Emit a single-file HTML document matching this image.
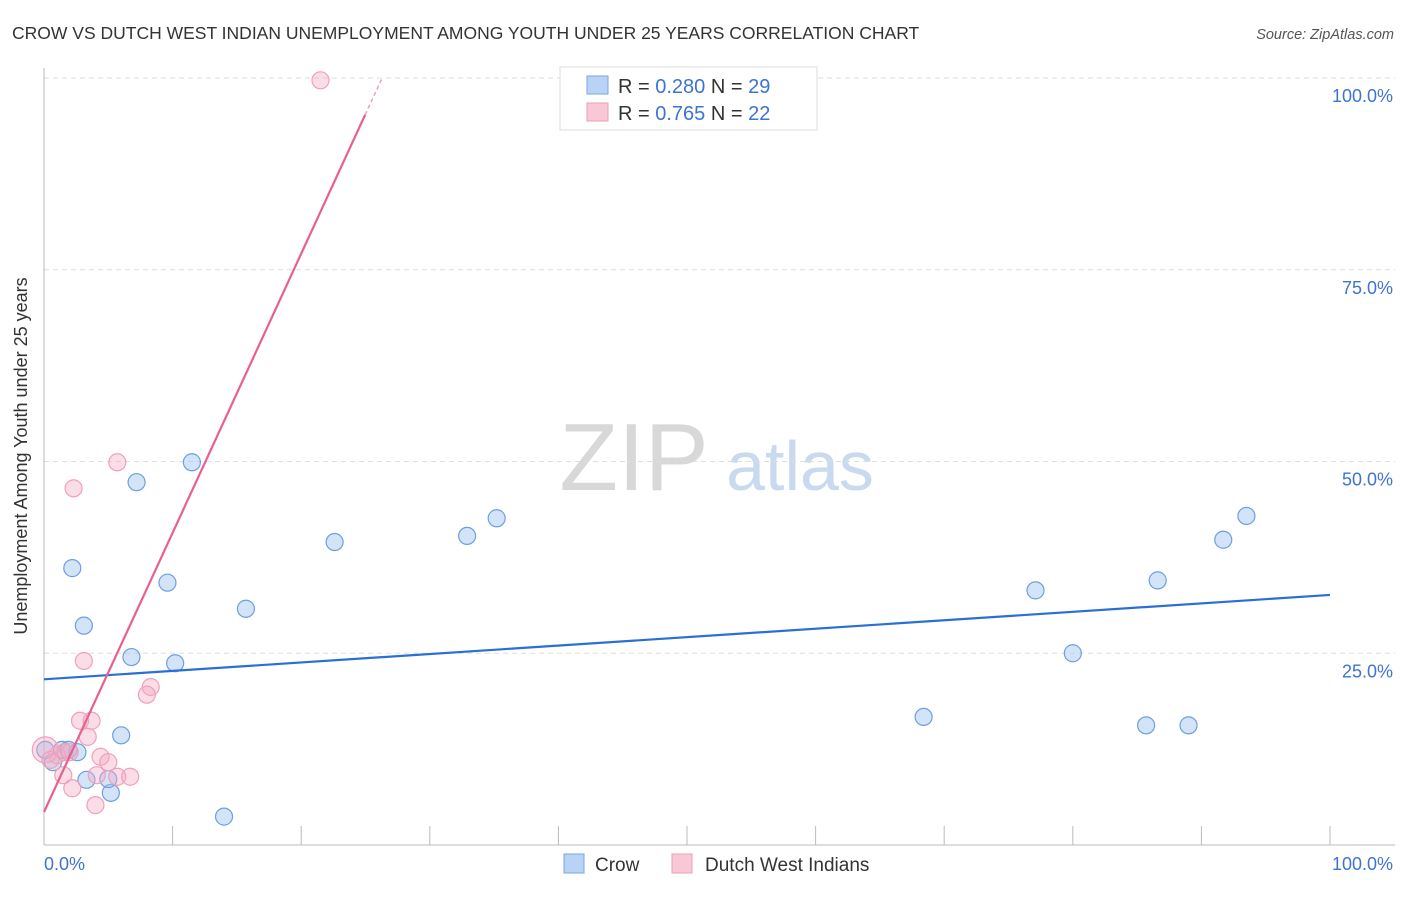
<!DOCTYPE html>
<html><head><meta charset="utf-8"><style>
body{margin:0;background:#fff;font-family:"Liberation Sans",sans-serif;}
svg text{font-family:"Liberation Sans",sans-serif;}
</style></head><body>
<svg width="1406" height="892" viewBox="0 0 1406 892">
<text x="12" y="39" font-size="17.5" fill="#333">CROW VS DUTCH WEST INDIAN UNEMPLOYMENT AMONG YOUTH UNDER 25 YEARS CORRELATION CHART</text>
<text x="1394" y="39" font-size="14.5" fill="#555" font-style="italic" text-anchor="end">Source: ZipAtlas.com</text>
<g>
<text x="634" y="490" font-size="96" font-family="Liberation Serif,serif" fill="#d8d8d8" text-anchor="middle">ZIP</text>
<text x="800" y="490" font-size="70" fill="#c8d9f0" text-anchor="middle">atlas</text>
</g>
<g id="grid"></g>
<g id="axes"></g>
<g id="marks"></g>
<text x="27" y="456" font-size="18" fill="#333" text-anchor="middle" transform="rotate(-90 27 456)">Unemployment Among Youth under 25 years</text>
<g>
<rect x="560" y="67" width="257" height="63" fill="#fff" stroke="#ddd"/>
<rect x="587" y="76" width="21" height="18" fill="#b8d3f5" stroke="#7aa6e0"/>
<rect x="587" y="103" width="21" height="18" fill="#f9c8d6" stroke="#ee9fb8"/>
<text x="618" y="93" font-size="20" fill="#333">R = <tspan fill="#3d74d0">0.280</tspan>   N = <tspan fill="#3d74d0">29</tspan></text>
<text x="618" y="120" font-size="20" fill="#333">R = <tspan fill="#3d74d0"> 0.765</tspan>   N = <tspan fill="#3d74d0">22</tspan></text>
</g>
<g>
<rect x="564" y="854" width="20" height="19" fill="#b8d3f5" stroke="#7aa6e0"/>
<text x="595" y="871" font-size="19" fill="#333">Crow</text>
<rect x="672" y="854" width="20" height="19" fill="#f9c8d6" stroke="#ee9fb8"/>
<text x="705" y="871" font-size="19" fill="#333">Dutch West Indians</text>
</g>
</svg>
<script>
const crowX=[0.7,1.4,1.9,2.6,3.3,5.2,5.0,6.0,6.8,7.2,9.6,10.2,11.5,14.0,15.7,22.6,32.9,35.2,68.4,77.1,80.0,85.7,86.6,89.0,91.7,93.5,2.2,3.1,0.1];
const crowY=[10.8,12.4,12.4,12.1,8.5,6.8,8.6,14.3,24.5,47.3,34.2,23.7,49.9,3.7,30.8,39.5,40.3,42.6,16.7,33.2,25.0,15.6,34.5,15.6,39.8,42.9,36.1,28.6,12.4];
const dutchX=[21.5,5.7,2.3,3.1,8.3,8.0,2.8,3.7,3.4,4.4,5.0,4.1,5.7,6.7,1.5,2.2,4.0,1.6,1.0,0.1,0.5,2.0];
const dutchY=[99.7,49.9,46.5,24.0,20.6,19.6,16.2,16.2,14.1,11.5,10.8,9.1,8.9,8.9,9.1,7.4,5.2,12.1,11.7,12.4,11.1,12.1];
const crowTrend=[21.6,32.6];
const dutchTrend=[4.3,3.64];
const yTicks=[25,50,75,100];
const xTicks=[0,10,20,30,40,50,60,70,80,90,100];
const NS='http://www.w3.org/2000/svg';
const X=v=>44+v*12.86, Y=v=>845-v*7.67;
function mk(tag,attrs,parent){const e=document.createElementNS(NS,tag);for(const k in attrs)e.setAttribute(k,attrs[k]);document.getElementById(parent).appendChild(e);return e;}
yTicks.forEach(t=>{
 const l=mk('line',{x1:44,x2:1395,y1:Y(t),y2:Y(t),stroke:'#ddd','stroke-dasharray':'5,4'},'grid');
 
 
 const tx=mk('text',{x:1393,y:Y(t)+24,'font-size':18,fill:'#3d74d0','text-anchor':'end'},'grid');
 tx.textContent=t.toFixed(1)+'%';
 
 
});
let a=mk('line',{x1:44,x2:44,y1:68,y2:845,stroke:'#bbb'},'axes');


a=mk('line',{x1:44,x2:1395,y1:845,y2:845,stroke:'#bbb'},'axes');


xTicks.forEach(t=>{
 if(t===0)return;
 const l=mk('line',{x1:X(t),x2:X(t),y1:826,y2:845,stroke:'#bbb'},'axes');
 
 
});
[[0,'0.0%','start',44],[100,'100.0%','end',1393]].forEach(([v,s,an,px])=>{
 const tx=mk('text',{x:px,y:870,'font-size':18,fill:'#3d74d0','text-anchor':an},'axes');
 tx.textContent=s;
 
 
});
crowX.forEach((x,i)=>{
 const c=mk('circle',{cx:X(x),cy:Y(crowY[i]),r:8.5,fill:'rgba(160,195,240,0.45)',stroke:'#6d9fe0','stroke-width':1.2},'marks');
 
 
});
dutchX.forEach((x,i)=>{
 const c=mk('circle',{cx:X(x),cy:Y(dutchY[i]),r:i===19?13:8.5,fill:'rgba(245,170,195,0.4)',stroke:'#f0a0b8','stroke-width':1.2},'marks');
 
 
});
let t=mk('line',{x1:X(0),y1:Y(crowTrend[0]),x2:X(100),y2:Y(crowTrend[1]),stroke:'#2a6fd6','stroke-width':2.2},'marks');


const xe=(95.2-dutchTrend[0])/dutchTrend[1];
t=mk('line',{x1:X(0),y1:Y(dutchTrend[0]),x2:X(xe),y2:Y(dutchTrend[0]+dutchTrend[1]*xe),stroke:'#e8608e','stroke-width':2.2},'marks');


const xe2=(100-dutchTrend[0])/dutchTrend[1];
t=mk('line',{x1:X(xe),y1:Y(dutchTrend[0]+dutchTrend[1]*xe),x2:X(xe2),y2:Y(100),stroke:'#f0a0b8','stroke-width':1.5,'stroke-dasharray':'4,3'},'marks');


</script>
</body></html>
